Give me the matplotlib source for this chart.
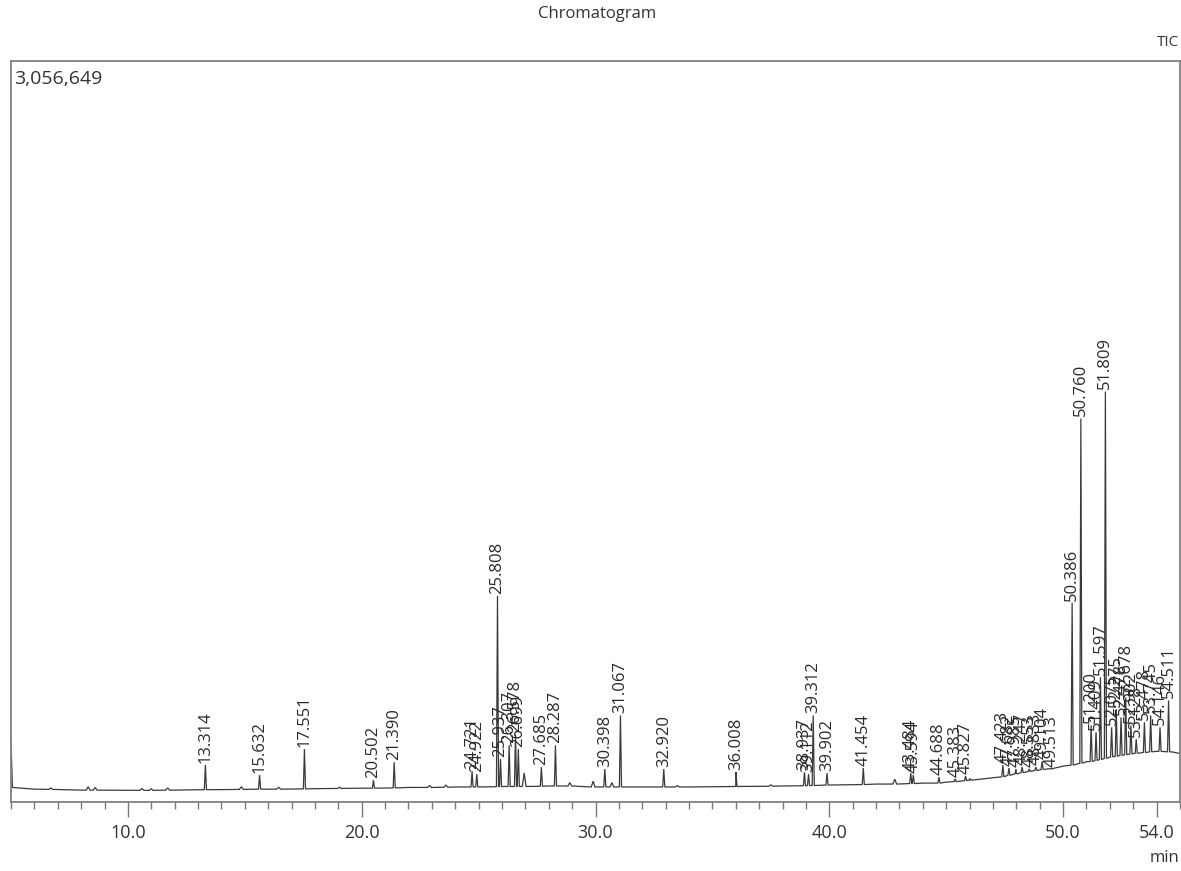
import matplotlib
matplotlib.use("Agg")
import matplotlib.pyplot as plt
from matplotlib.ticker import MultipleLocator, FixedLocator

plt.rcParams['font.family'] = ['Open Sans', 'DejaVu Sans']

# ---- data ----
y_max_label = "3,056,649"

# baseline (time [min], intensity [counts])
base_time = [5.0, 5.06, 6.0, 8.0, 10.0, 12.0, 14.0, 16.0, 18.0, 20.0, 22.0, 24.0, 26.0, 28.0,
             30.0, 32.0, 34.0, 36.0, 38.0, 40.0, 42.0, 44.0, 45.0, 46.0, 47.0, 48.0, 49.0,
             50.0, 51.0, 52.0, 53.0, 54.0, 54.7, 55.0]
base_level = [247000, 60000, 53000, 49000, 48000, 49000, 51000, 53000, 55000, 57000, 60000,
              62000, 64000, 66000, 62000, 62000, 62000, 64000, 66000, 70000, 74000, 78000,
              82000, 90000, 100000, 118000, 132000, 148000, 166000, 185000, 200000, 209000,
              206000, 200000]

# small unlabelled bumps on the baseline: time, apex, foot
bump_time = [6.7, 8.3, 8.6, 10.6, 11.0, 11.7, 14.85, 16.45, 19.05, 22.9, 23.6, 26.95,
             28.9, 29.9, 30.7, 33.5, 37.5, 42.8, 46.0]
bump_top = [58000, 63000, 60000, 56000, 55000, 58000, 63000, 61000, 61000, 68000, 70000,
            120000, 80000, 86000, 80000, 68000, 71000, 94000, 97000]
bump_foot = [52000, 49000, 49000, 48000, 48000, 49000, 52000, 53000, 56000, 60000, 61000,
             64000, 66000, 62000, 62000, 62000, 65000, 74000, 90000]

# labelled peaks: retention time, apex intensity, foot intensity
peak_time = [13.314, 15.632, 17.551, 20.502, 21.390, 24.721, 24.922, 25.808, 25.937, 26.307,
             26.578, 26.699, 27.685, 28.287, 30.398, 31.067, 32.920, 36.008, 38.937, 39.112,
             39.312, 39.902, 41.454, 43.484, 43.594, 44.688, 45.383, 45.827, 47.423, 47.682,
             47.985, 48.247, 48.553, 48.833, 49.104, 49.513, 50.386, 50.760, 51.200, 51.409,
             51.597, 51.809, 52.075, 52.275, 52.478, 52.678, 52.902, 53.128, 53.478, 53.745,
             54.146, 54.511]
peak_top = [152000, 111000, 218000, 90000, 164000, 127000, 115000, 850000, 177000, 234000,
            279000, 218000, 144000, 234000, 136000, 357000, 136000, 123000, 123000, 115000,
            357000, 119000, 140000, 119000, 111000, 103000, 95000, 107000, 152000, 140000,
            136000, 144000, 136000, 144000, 168000, 136000, 822000, 1582000, 316000, 288000,
            514000, 1693000, 308000, 382000, 349000, 431000, 316000, 259000, 329000, 357000,
            308000, 419000]
peak_foot = [51000, 53000, 54000, 57000, 58000, 62000, 62000, 63000, 63000, 64000,
             64000, 64000, 65000, 66000, 62000, 62000, 62000, 64000, 67000, 68000,
             68000, 70000, 72000, 76000, 76000, 78000, 84000, 88000, 104000, 110000,
             116000, 121000, 126000, 130000, 134000, 138000, 152000, 160000, 167000, 171000,
             175000, 180000, 186000, 189000, 192000, 195000, 198000, 201000, 204000, 207000,
             209000, 207000]
peak_label = [f"{t:.3f}" for t in peak_time]

x_ticks = [10.0, 20.0, 30.0, 40.0, 50.0, 54.0]
x_tick_labels = ["10.0", "20.0", "30.0", "40.0", "50.0", "54.0"]

# ---- figure ----
W, H = 1181, 871
fig = plt.figure(figsize=(W / 100, H / 100), dpi=100)
left, right, top, bottom = 11, 1180, 61, 802
ax = fig.add_axes([left / W, 1 - bottom / H, (right - left) / W, (bottom - top) / H])

# build the trace: baseline points plus a narrow spike at every peak / bump
pts = list(zip(base_time, base_level))
for t, a, f in zip(peak_time, peak_top, peak_foot):
    pts += [(t - 0.045, f), (t, a), (t + 0.045, f)]
for t, a, f in zip(bump_time, bump_top, bump_foot):
    pts += [(t - 0.08, f), (t, a), (t + 0.08, f)]
pts.sort(key=lambda p: p[0])
tr_t = [p[0] for p in pts]
tr_v = [p[1] for p in pts]
ax.plot(tr_t, tr_v, color='#3a3a3a', lw=0.9, solid_joinstyle='miter')

for t, a, lab in zip(peak_time, peak_top, peak_label):
    ax.annotate(lab, xy=(t, a), xytext=(0, 1.5), textcoords='offset points',
                rotation=90, ha='center', va='bottom', fontsize=12,
                color='#2a2a2a', annotation_clip=False)

ax.set_xlim(5.0, 55.0)
ax.set_ylim(0, 3056649)
ax.set_yticks([])
ax.xaxis.set_major_locator(FixedLocator(x_ticks))
ax.set_xticklabels(x_tick_labels)
ax.xaxis.set_minor_locator(MultipleLocator(1.0))
ax.tick_params(axis='x', which='major', direction='out', length=11, width=1,
               color='#777777', labelsize=13, labelcolor='#333333', pad=5)
ax.tick_params(axis='x', which='minor', direction='out', length=5, width=1,
               color='#777777')
for s in ax.spines.values():
    s.set_color('#808080')
    s.set_linewidth(1.3)

ax.text(0.003, 0.988, y_max_label, transform=ax.transAxes, ha='left', va='top',
        fontsize=14, color='#333333')
fig.text(597 / W, 1 - 14 / H, "Chromatogram", ha='center', va='center',
         fontsize=12, color='#333333')
fig.text(1179 / W, 1 - 42 / H, "TIC", ha='right', va='center',
         fontsize=11, color='#333333')
fig.text(1179 / W, 1 - 858 / H, "min", ha='right', va='center',
         fontsize=12, color='#333333')

fig.savefig("out.png", dpi=100)
